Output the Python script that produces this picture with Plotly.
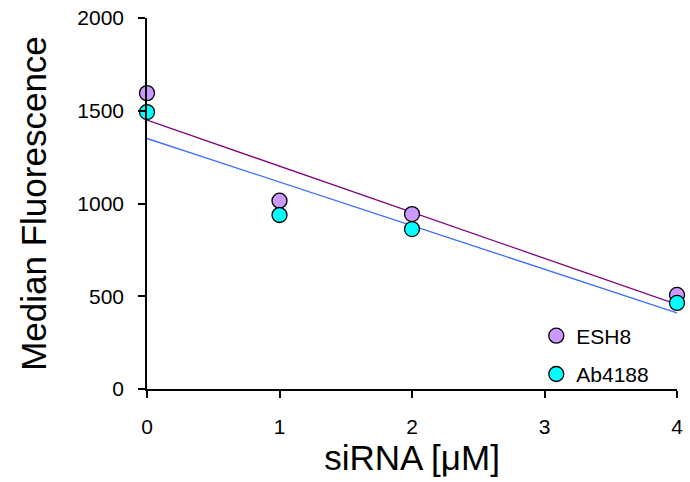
import numpy as np
import plotly.graph_objects as go

sirna = [0, 1, 2, 4]
esh8 = [1595, 1015, 943, 507]
ab4188 = [1493, 938, 862, 464]
x_ticks = [0, 1, 2, 3, 4]
y_ticks = [0, 500, 1000, 1500, 2000]

series = [
    ("ESH8", esh8, "#CC99FF", "#800080", "g1"),
    ("Ab4188", ab4188, "#00FFFF", "#3A6BFF", "g2"),
]

fig = go.Figure()
xfit = np.array([0, 4])
for name, vals, mcol, lcol, grp in series:
    slope, inter = np.polyfit(sirna, vals, 1)
    fig.add_trace(go.Scatter(x=xfit, y=slope * xfit + inter, mode="lines",
                             line=dict(color=lcol, width=1.3), showlegend=False,
                             hoverinfo="skip"))
for name, vals, mcol, lcol, grp in series:
    fig.add_trace(go.Scatter(x=sirna, y=vals, mode="markers", name=name,
                             legendgroup=grp,
                             marker=dict(size=15, color=mcol,
                                         line=dict(color="black", width=1.3)),
                             cliponaxis=False))

fig.update_layout(
    width=690, height=482,
    margin=dict(l=147, r=13, t=18, b=93, autoexpand=False),
    paper_bgcolor="white", plot_bgcolor="white",
    font=dict(family="Liberation Sans, Arial, sans-serif", color="black"),
    showlegend=True,
    legend=dict(x=0.7345, y=0.198, xanchor="left", yanchor="top",
                font=dict(size=21), bgcolor="rgba(0,0,0,0)",
                itemwidth=30, tracegroupgap=8),
    xaxis=dict(range=[0, 4], tickvals=x_ticks, showgrid=False, zeroline=False,
               showline=True, linecolor="black", linewidth=1.5, automargin=False,
               ticks="outside", ticklen=7, tickwidth=1.5, tickcolor="black",
               tickfont=dict(size=21), ticklabelstandoff=11,
               title=dict(text="siRNA [μM]", font=dict(size=35), standoff=6)),
    yaxis=dict(range=[0, 2000], tickvals=y_ticks, showgrid=False, zeroline=False,
               showline=True, linecolor="black", linewidth=1.5, automargin=False,
               ticks="outside", ticklen=7, tickwidth=1.5, tickcolor="black",
               tickfont=dict(size=21), ticklabelstandoff=10,
               title=dict(text="Median Fluorescence", font=dict(size=35), standoff=20)),
)

fig.write_html("out.html")
